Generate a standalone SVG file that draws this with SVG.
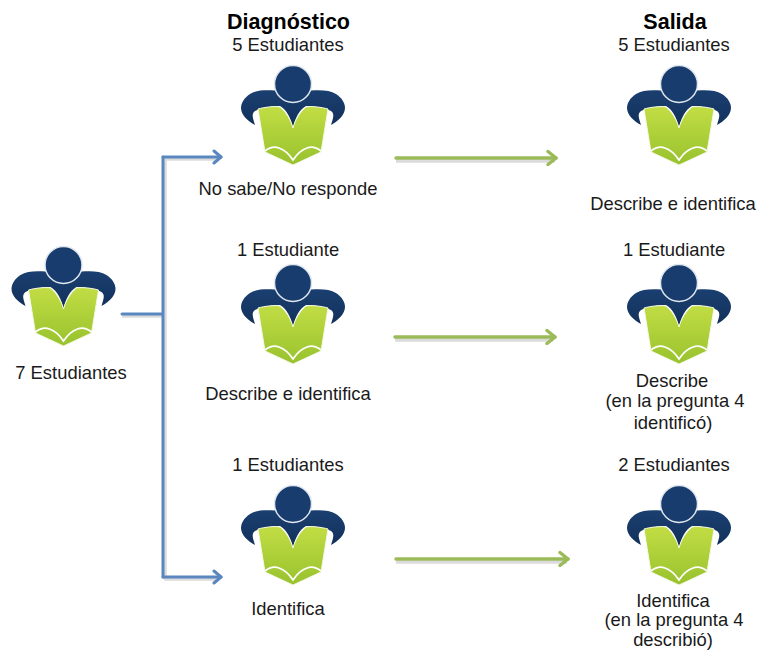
<svg xmlns="http://www.w3.org/2000/svg" width="759" height="651" viewBox="0 0 759 651">
<style>
text{font-family:"Liberation Sans",Arial,sans-serif;font-size:18.400px;fill:#1a1a1a;text-anchor:middle}
.h{font-weight:bold;font-size:21.500px;fill:#000}
.b{fill:none;stroke:#5b87c0;stroke-width:3;stroke-linecap:round;stroke-linejoin:round}
.g{fill:none;stroke:#9bbb59;stroke-width:3.400;stroke-linecap:round;stroke-linejoin:round}
.s{fill:none;stroke:#000;stroke-opacity:.14;stroke-width:3.500}
</style>
<defs>
<linearGradient id="bk" x1="0" y1="0" x2="0" y2="1"><stop offset="0" stop-color="#c2dd44"/><stop offset="1" stop-color="#98c22e"/></linearGradient>
<linearGradient id="nv" x1="0" y1="0" x2="0" y2="1"><stop offset="0" stop-color="#1a3f70"/><stop offset="1" stop-color="#12305a"/></linearGradient>
<g id="reader">
<path fill="url(#nv)" d="M-18 6.500C-12 14-5 17 0 17S12 14 18 6.500C28 6 37 6 43 10C49 14 52 19 52 24C52 31 45 37 38 41C40 34 42 30 38 27C33 24 20 22 13 22C6 26 2 34 0 45C-2 34-6 26-13 22C-20 22-33 24-38 27C-42 30-40 34-38 41C-45 37-52 31-52 24C-52 19-49 14-43 10C-37 6-28 6-18 6.500Z"/>
<circle r="18.500" fill="#173c6d" stroke="#dfe6ee" stroke-width="1.500"/>
<path fill="url(#bk)" stroke="#f4f8e6" stroke-width="1" d="M-35 25C-28 23-18 22-13 23C-7 28-2 36 0 44C2 36 7 28 13 23C18 22 28 23 35 25L28 68L0 81L-28 68Z"/>
<path fill="none" stroke="#fff" stroke-width="1.800" d="M-28 67C-23 63-19 62-14 64C-8 66-4 70 0 76C4 70 8 66 14 64C19 62 23 63 28 67"/>
</g>
<marker id="ab" markerUnits="userSpaceOnUse" markerWidth="16" markerHeight="16" refX="13" refY="8" orient="auto"><path class="b" d="M6 2L13 8L6 14"/></marker>
<marker id="ag" markerUnits="userSpaceOnUse" markerWidth="16" markerHeight="18" refX="14" refY="9" orient="auto"><path class="g" d="M6 2.500L14 9L6 15.500"/></marker>
</defs>
<g id="connectors">
<path class="s" d="M122 316H162M165 158V578M164 159H218M164 579H218M396 161H555M395 340H553M396 562H567"/>
<path class="b" d="M122 314H162"/>
<path class="b" d="M163 157V577"/>
<path class="b" d="M163 157H221" marker-end="url(#ab)"/>
<path class="b" d="M163 577H221" marker-end="url(#ab)"/>
<path class="g" d="M396 158H556" marker-end="url(#ag)"/>
<path class="g" d="M395 337H555" marker-end="url(#ag)"/>
<path class="g" d="M396 559H568" marker-end="url(#ag)"/>
</g>
<g id="node-origen"><use href="#reader" x="63.500" y="265"/><text x="71" y="379">7 Estudiantes</text></g>
<g id="node-diag-1"><text class="h" x="288.500" y="29">Diagnóstico</text><text x="288" y="51">5 Estudiantes</text><use href="#reader" x="293" y="84"/><text x="288" y="195">No sabe/No responde</text></g>
<g id="node-diag-2"><text x="288" y="256">1 Estudiante</text><use href="#reader" x="293" y="283"/><text x="288" y="400">Describe e identifica</text></g>
<g id="node-diag-3"><text x="288" y="471">1 Estudiantes</text><use href="#reader" x="293" y="504"/><text x="288" y="615">Identifica</text></g>
<g id="node-sal-1"><text class="h" x="675" y="29">Salida</text><text x="674" y="51">5 Estudiantes</text><use href="#reader" x="679" y="84"/><text x="673" y="210">Describe e identifica</text></g>
<g id="node-sal-2"><text x="674" y="256">1 Estudiante</text><use href="#reader" x="679" y="283"/><text x="672" y="387">Describe</text><text x="675" y="407">(en la pregunta 4</text><text x="673" y="429">identificó)</text></g>
<g id="node-sal-3"><text x="674" y="471">2 Estudiantes</text><use href="#reader" x="679" y="504"/><text x="673" y="607">Identifica</text><text x="674" y="626">(en la pregunta 4</text><text x="673" y="646">describió)</text></g>
</svg>
